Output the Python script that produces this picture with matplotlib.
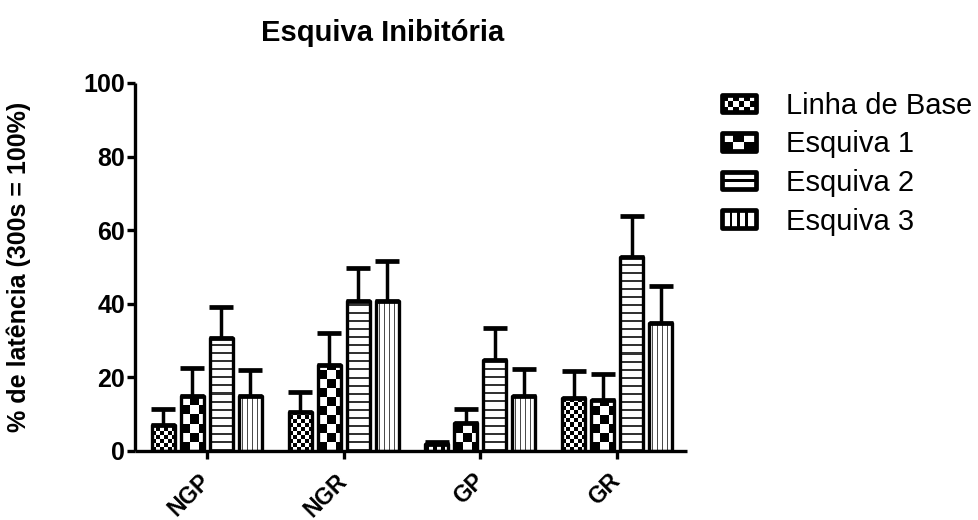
import numpy as np
import matplotlib
matplotlib.use("Agg")
import matplotlib.pyplot as plt
from matplotlib.patches import Rectangle
from matplotlib.legend_handler import HandlerBase

plt.rcParams['font.family'] = ['Liberation Sans', 'DejaVu Sans']

# ---- data -------------------------------------------------------------
groups = ["NGP", "NGR", "GP", "GR"]
series = ["Linha de Base", "Esquiva 1", "Esquiva 2", "Esquiva 3"]
linha_base = [7.0, 10.5, 2.0, 14.5]
esquiva_1 = [15.0, 23.3, 7.5, 13.8]
esquiva_2 = [30.8, 40.8, 24.8, 52.8]
esquiva_3 = [15.0, 40.8, 15.0, 34.8]
err_base = [4.4, 5.5, 0.5, 7.3]
err_e1 = [7.5, 8.8, 3.8, 7.2]
err_e2 = [8.3, 9.0, 8.7, 11.0]
err_e3 = [7.0, 10.7, 7.2, 10.0]
yticks = [0, 20, 40, 60, 80, 100]

values = [linha_base, esquiva_1, esquiva_2, esquiva_3]
errors = [err_base, err_e1, err_e2, err_e3]
styles = ["small_checker", "big_checker", "hlines", "vlines"]

DPI = 100
fig = plt.figure(figsize=(9.79, 5.20), dpi=DPI)
ax = fig.add_axes([135 / 979, 1 - 451 / 520, (687 - 135) / 979, (451 - 83) / 520])
ax.set_xlim(-0.526, 3.511)
ax.set_ylim(0, 100)


def pattern(style, h, w):
    """Black/white fill pattern on a pixel grid (row 0 = bottom)."""
    i, j = np.mgrid[0:h, 0:w]
    if style == "small_checker":
        img = ((i // 4 + j // 4) % 2).astype(float)
    elif style == "big_checker":
        img = ((i // 9 + j // 9) % 2).astype(float)
    elif style == "hlines":
        img = np.where((i % 8) < 2, 0.2, 1.0)
    else:
        img = np.where((j % 5) == 3, 0.3, 1.0)
    return img


bar_w = 0.168
pitch = 0.212
x = np.arange(len(groups))
lw = 2.4

for k, (vals, errs, st) in enumerate(zip(values, errors, styles)):
    xs = x + (k - 1.5) * pitch
    bars = ax.bar(xs, vals, width=bar_w, facecolor="none", edgecolor="black",
                  linewidth=lw, joinstyle="round", zorder=3)
    for b in bars:
        x0, x1 = b.get_x(), b.get_x() + b.get_width()
        y0, y1 = 0, b.get_height()
        p0 = ax.transData.transform((x0, y0))
        p1 = ax.transData.transform((x1, y1))
        wpx = max(int(round(p1[0] - p0[0])), 1)
        hpx = max(int(round(p1[1] - p0[1])), 1)
        im = ax.imshow(pattern(st, hpx, wpx), cmap="gray", vmin=0, vmax=1,
                       extent=(x0, x1, y0, y1), origin="lower", aspect="auto",
                       interpolation="nearest", zorder=2)
        im.set_clip_path(b)
    ax.errorbar(xs, vals, yerr=[np.zeros(len(vals)), errs], fmt="none",
                ecolor="black", elinewidth=2.5, capsize=8.5, capthick=3.4,
                zorder=2.5)

ax.set_xlim(-0.526, 3.511)
ax.set_ylim(0, 100)
ax.set_yticks(yticks)
ax.set_yticklabels([str(t) for t in yticks], fontsize=18, fontweight="bold")
ax.set_xticks(x)
ax.set_xticklabels(groups, fontsize=16.5, fontweight="bold", rotation=45,
                   ha="right", va="center", rotation_mode="anchor")
ax.tick_params(axis="both", length=6, width=2.4, color="black")
ax.tick_params(axis="y", pad=1)
ax.tick_params(axis="x", pad=13)
for s in ["top", "right"]:
    ax.spines[s].set_visible(False)
for s in ["left", "bottom"]:
    ax.spines[s].set_linewidth(2.4)
    ax.spines[s].set_capstyle("butt")

ax.set_ylabel("% de latência (300s = 100%)", fontsize=18, fontweight="bold",
              va="center")
ax.yaxis.set_label_coords(-0.21, 0.5)
fig.text(383 / 979, 1 - 33 / 520, "Esquiva Inibitória", fontsize=21,
         fontweight="bold", ha="center", va="center")


# ---- legend with patterned swatches ----------------------------------
class Swatch:
    def __init__(self, style):
        self.style = style


class SwatchHandler(HandlerBase):
    def create_artists(self, legend, orig_handle, xdescent, ydescent,
                       width, height, fontsize, trans):
        x0, y0 = -xdescent, -ydescent
        arts = []
        st = orig_handle.style
        if st in ("small_checker", "big_checker"):
            nc, nr = (6, 3) if st == "small_checker" else (3, 2)
            cw, ch = width / nc, height / nr
            for r in range(nr):
                for c in range(nc):
                    if (r + c) % 2 == 0:
                        arts.append(Rectangle((x0 + c * cw, y0 + r * ch), cw, ch,
                                              facecolor="black", edgecolor="none",
                                              transform=trans))
        elif st == "hlines":
            arts.append(Rectangle((x0, y0 + height * 0.42), width, height * 0.16,
                                  facecolor="black", edgecolor="none",
                                  transform=trans))
        else:
            for c in (0.27, 0.5, 0.73):
                arts.append(Rectangle((x0 + width * c - width * 0.04, y0),
                                      width * 0.08, height, facecolor="black",
                                      edgecolor="none", transform=trans))
        arts.append(Rectangle((x0, y0), width, height, facecolor="none",
                              edgecolor="black", linewidth=3.4,
                              joinstyle="round", transform=trans))
        return arts


handles = [Swatch(s) for s in styles]
fig.legend(handles, series, handler_map={Swatch: SwatchHandler()},
           loc="upper left", bbox_to_anchor=(722 / 979, 1 - 92 / 520),
           frameon=False, fontsize=21, handlelength=1.15, handleheight=0.55,
           handletextpad=1.05, labelspacing=0.36, borderaxespad=0,
           borderpad=0)

fig.savefig("out.png", dpi=DPI)
